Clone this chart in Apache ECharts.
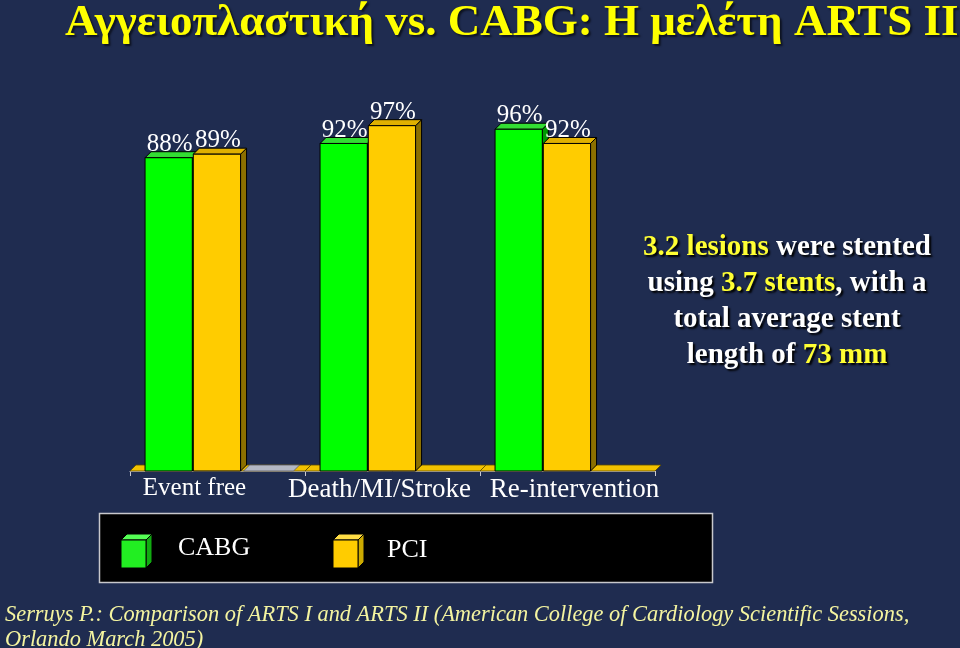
<!DOCTYPE html>
<html>
<head>
<meta charset="utf-8">
<script src="https://cdn.jsdelivr.net/npm/echarts@6/dist/echarts.min.js"></script>
<style>html,body{margin:0;padding:0;background:#1f2c50;}#c{width:960px;height:648px;}</style>
</head>
<body>
<div id="c"></div>
<script>
const categories = ['Event free', 'Death/MI/Stroke', 'Re-intervention'];
const cabgValues = [88, 92, 96];
const pciValues = [89, 97, 92];
const seriesNames = ['CABG', 'PCI'];
const valueLabels = v => v + '%';

const SERIF = '"Liberation Serif", "DejaVu Serif", serif';
const D = 6;

function barRenderer(slot, front, topC, sideC) {
  return function (params, api) {
    const cat = api.value(0), v = api.value(1);
    const t = api.coord([cat, v]);
    const b = api.coord([cat, 0]);
    const band = api.size([1, 0])[0];
    const w = band * 0.27;
    const x0 = t[0] - band * 0.414 + slot * (w + 1);
    const ty = t[1], by = b[1];
    const stroke = { stroke: '#000', lineWidth: 1 };
    return {
      type: 'group',
      children: [
        { type: 'polygon', shape: { points: [[x0 + w, ty], [x0 + w + D, ty - D], [x0 + w + D, by - D], [x0 + w, by]] }, style: Object.assign({ fill: sideC }, stroke) },
        { type: 'polygon', shape: { points: [[x0, ty], [x0 + D, ty - D], [x0 + w + D, ty - D], [x0 + w, ty]] }, style: Object.assign({ fill: topC }, stroke) },
        { type: 'rect', shape: { x: x0, y: ty, width: w, height: by - ty }, style: Object.assign({ fill: front }, stroke) },
        { type: 'text', style: { text: valueLabels(v), x: x0 + w / 2 + 1, y: ty - 1, align: 'center', verticalAlign: 'bottom', fill: '#fff', font: '25px ' + SERIF } }
      ]
    };
  };
}

function floorRenderer(params, api) {
  const cat = api.value(0);
  const b = api.coord([cat, 0]);
  const band = api.size([1, 0])[0];
  const l = b[0] - band / 2, r = b[0] + band / 2, y = b[1];
  const children = [
    { type: 'polygon', shape: { points: [[l, y], [l + D, y - D], [r + D, y - D], [r, y]] }, style: { fill: '#f2c200', stroke: '#5a4a00', lineWidth: 0.8 } }
  ];
  if (cat === 0) {
    const gx = b[0] - band * 0.414 + 2 * (band * 0.27 + 1) + 2;
    children.push({ type: 'polygon', shape: { points: [[gx, y], [gx + D, y - D], [gx + 50 + D, y - D], [gx + 50, y]] }, style: { fill: '#b4b8c4', stroke: '#5a5a60', lineWidth: 0.8 } });
  }
  return { type: 'group', children };
}

function cube(x, y, w, h, d, front, top, side) {
  return [
    { type: 'polygon', shape: { points: [[x + w, y], [x + w + d, y - d], [x + w + d, y + h - d], [x + w, y + h]] }, style: { fill: side, stroke: '#000', lineWidth: 1 } },
    { type: 'polygon', shape: { points: [[x, y], [x + d, y - d], [x + w + d, y - d], [x + w, y]] }, style: { fill: top, stroke: '#000', lineWidth: 1 } },
    { type: 'rect', shape: { x: x, y: y, width: w, height: h }, style: { fill: front, stroke: '#000', lineWidth: 1 } }
  ];
}

const labelStyle = { color: '#ffffff', fontFamily: SERIF };

const chart = echarts.init(document.getElementById('c'));
chart.setOption({
  backgroundColor: '#1f2c50',
  animation: false,
  title: {
    text: 'Αγγειοπλαστική vs. CABG: Η μελέτη ARTS II',
    left: 60, top: -4,
    textStyle: { color: '#ffff00', fontFamily: SERIF, fontWeight: 'bold', fontSize: 45, textShadowColor: 'rgba(0,0,0,0.6)', textShadowOffsetX: 2, textShadowOffsetY: 2, textShadowBlur: 2 }
  },
  grid: { left: 130, right: 305, top: 115, bottom: 177 },
  xAxis: {
    type: 'category', data: categories,
    axisLine: { lineStyle: { color: '#c8c8d0', width: 1 } },
    axisTick: { show: true, length: 5, lineStyle: { color: '#c8c8d0' } },
    axisLabel: {
      interval: 0, hideOverlap: false, margin: 5,
      formatter: (v, i) => '{c' + i + '|' + v + '}',
      rich: {
        c0: Object.assign({ fontSize: 25, padding: [0, 46, 0, 0] }, labelStyle),
        c1: Object.assign({ fontSize: 27, padding: [0, 26, 0, 0] }, labelStyle),
        c2: Object.assign({ fontSize: 27, padding: [0, 0, 0, 14] }, labelStyle)
      }
    }
  },
  yAxis: { type: 'value', min: 0, max: 100, show: false, splitLine: { show: false } },
  series: [
    { type: 'custom', name: 'floor', data: categories.map((c, i) => [i, 0]), renderItem: floorRenderer, silent: true },
    { type: 'custom', name: seriesNames[0], data: cabgValues.map((v, i) => [i, v]), renderItem: barRenderer(0, '#00ff00', '#33dd33', '#009900') },
    { type: 'custom', name: seriesNames[1], data: pciValues.map((v, i) => [i, v]), renderItem: barRenderer(1, '#ffcc00', '#e0b000', '#8c7000') }
  ],
  graphic: [
    { type: 'rect', shape: { x: 99.5, y: 513.5, width: 613, height: 69 }, style: { fill: '#000', stroke: '#c8c8cc', lineWidth: 1.5 } },
    { type: 'group', children: cube(121, 540, 25, 28, 6, '#22ee22', '#55ff55', '#11aa11') },
    { type: 'text', style: { text: seriesNames[0], x: 178, y: 548, verticalAlign: 'middle', fill: '#fff', font: '26px ' + SERIF } },
    { type: 'group', children: cube(333, 540, 25, 28, 6, '#ffcc00', '#ffdd44', '#ccaa00') },
    { type: 'text', style: { text: seriesNames[1], x: 387, y: 550, verticalAlign: 'middle', fill: '#fff', font: '26px ' + SERIF } },
    {
      type: 'text',
      style: {
        text: '{y|3.2 lesions}{w| were stented}\n{w|using }{y|3.7 stents}{w|, with a}\n{w|total average stent}\n{w|length of }{y|73 mm}',
        x: 787, y: 302, align: 'center', verticalAlign: 'middle',
        rich: {
          w: { fill: '#ffffff', font: 'bold 29px ' + SERIF, lineHeight: 36, textShadowColor: '#000', textShadowOffsetX: 2, textShadowOffsetY: 2, textShadowBlur: 2 },
          y: { fill: '#ffff33', font: 'bold 29px ' + SERIF, lineHeight: 36, textShadowColor: '#000', textShadowOffsetX: 2, textShadowOffsetY: 2, textShadowBlur: 2 }
        }
      }
    },
    {
      type: 'text',
      style: {
        text: 'Serruys P.: Comparison of ARTS I and ARTS II (American College of Cardiology Scientific Sessions,\nOrlando March 2005)',
        x: 5, y: 603, fill: '#f4f4a0', font: 'italic 22.4px ' + SERIF, lineHeight: 25
      }
    }
  ]
});
</script>
</body>
</html>
